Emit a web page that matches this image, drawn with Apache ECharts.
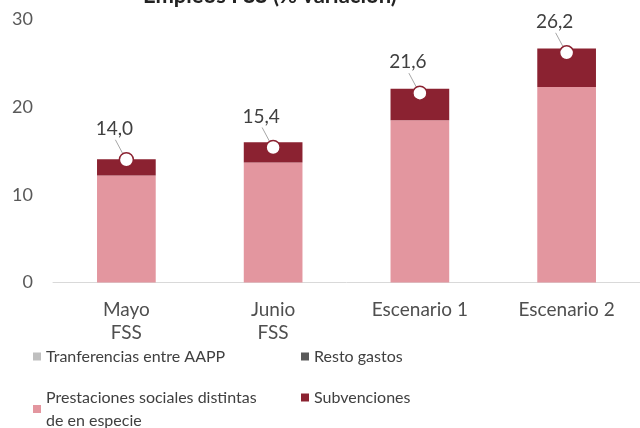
<!DOCTYPE html>
<html><head><meta charset="utf-8">
<script src="https://cdn.jsdelivr.net/npm/echarts@6/dist/echarts.min.js"></script>
<style>html,body{margin:0;padding:0;background:#fff}#c{width:640px;height:428px}</style>
</head><body><div id="c"></div>
<script>
var categories = ['Mayo\nFSS', 'Junio\nFSS', 'Escenario 1', 'Escenario 2'];
var transferencias = [0, 0, 0, 0];
var restoGastos = [0, 0, 0, 0];
var prestaciones = [12.2, 13.7, 18.5, 22.3];
var subvenciones = [1.85, 2.3, 3.6, 4.4];
var totales = [14.0, 15.4, 21.6, 26.2];
var yTicks = [0, 10, 20, 30];

var font = 'Lato, "Open Sans", sans-serif';
var chart = echarts.init(document.getElementById('c'), null, {renderer: 'canvas'});
var barW = '40%';
function legendAt(name, left, top) {
  return {
    data: [name], left: left, top: top, orient: 'horizontal',
    icon: 'rect', itemWidth: 8, itemHeight: 8, itemGap: 4,
    textStyle: {fontFamily: font, fontSize: 16, color: '#404040', lineHeight: 23, padding: [0,0,0,0]},
    selectedMode: false
  };
}
chart.setOption({
  animation: false,
  title: {text: 'Empleos FSS (% variación)', left: 138, top: -20,
    textStyle: {fontFamily: font, fontSize: 22, fontWeight: 'bold', color: '#222'}},
  legend: [
    legendAt('Tranferencias entre AAPP', 28, 340),
    legendAt('Resto gastos', 296, 340),
    legendAt('Prestaciones sociales distintas\nde en especie', 28, 381),
    legendAt('Subvenciones', 296, 381)
  ],
  grid: {left: 53, right: 0, top: 19.5, bottom: 145.5, containLabel: false},
  xAxis: {
    type: 'category', data: categories,
    axisLine: {lineStyle: {color: '#d9d9d9', width: 1}},
    axisTick: {show: false},
    axisLabel: {fontFamily: font, fontSize: 19, color: '#4f4f4f', lineHeight: 23, margin: 16}
  },
  yAxis: {
    type: 'value', min: yTicks[0], max: yTicks[yTicks.length - 1], interval: 10,
    axisLine: {show: false}, axisTick: {show: false}, splitLine: {show: false},
    axisLabel: {fontFamily: font, fontSize: 18, color: '#595959', margin: 20}
  },
  series: [
    {name: 'Tranferencias entre AAPP', type: 'bar', stack: 't', data: transferencias, barWidth: barW, itemStyle: {color: '#bfbfbf'}},
    {name: 'Resto gastos', type: 'bar', stack: 't', data: restoGastos, barWidth: barW, itemStyle: {color: '#595959'}},
    {name: 'Prestaciones sociales distintas\nde en especie', type: 'bar', stack: 't', data: prestaciones, barWidth: barW, itemStyle: {color: '#e3969f'}},
    {name: 'Subvenciones', type: 'bar', stack: 't', data: subvenciones, barWidth: barW, itemStyle: {color: '#8b2231'}},
    {name: 'Guia', type: 'custom', data: totales, z: 9,
      renderItem: function (params, api) {
        var p = api.coord([api.value(0), api.value(1)]);
        return {type: 'line', shape: {x1: p[0] - 11, y1: p[1] - 20, x2: p[0] - 3, y2: p[1] - 5},
          style: {stroke: '#a6a6a6', lineWidth: 1}};
      },
      encode: {x: 0, y: 1}
    },
    {name: 'Total', type: 'scatter', data: totales, symbol: 'circle', symbolSize: 14, z: 10,
      itemStyle: {color: '#ffffff', opacity: 1, borderColor: '#8b2231', borderWidth: 1.5},
      label: {show: true, position: 'inside', fontFamily: font, fontSize: 19, color: '#404040',
        offset: [-12, -31],
        formatter: function (p) { return p.value.toFixed(1).replace('.', ','); }}
    }
  ]
});
</script></body></html>
